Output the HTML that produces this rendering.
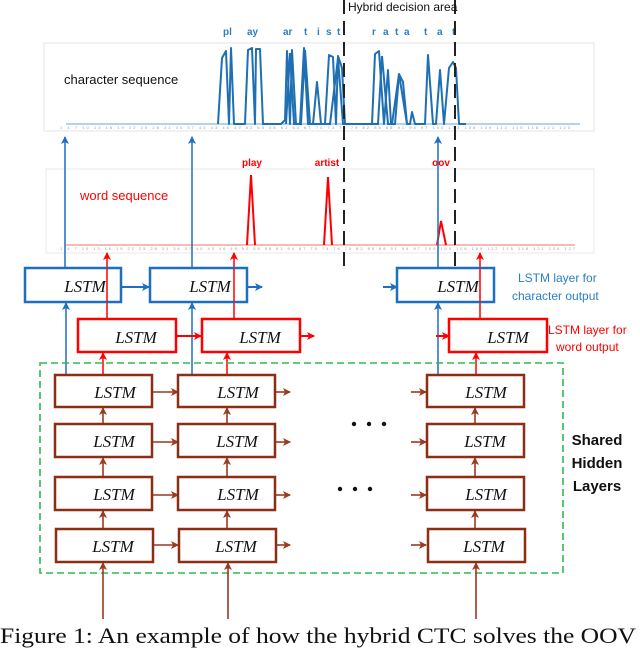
<!DOCTYPE html>
<html><head><style>body{margin:0;background:#fff}svg{display:block}</style></head><body>
<svg width="640" height="651" viewBox="0 0 640 651" xmlns="http://www.w3.org/2000/svg">
<defs>
<marker id="ab" markerWidth="8" markerHeight="8" refX="7" refY="4" orient="auto" markerUnits="userSpaceOnUse"><path d="M0,0 L8,4 L0,8 L2,4z" fill="#1f6fc0"/></marker>
<marker id="ar" markerWidth="8" markerHeight="8" refX="7" refY="4" orient="auto" markerUnits="userSpaceOnUse"><path d="M0,0 L8,4 L0,8 L2,4z" fill="#f00"/></marker>
<marker id="ak" markerWidth="8" markerHeight="8" refX="7" refY="4" orient="auto" markerUnits="userSpaceOnUse"><path d="M0,0 L8,4 L0,8 L2,4z" fill="#9b3a1e"/></marker>
</defs>
<!-- chart 1 -->
<rect x="44" y="43" width="550" height="88" fill="none" stroke="#e4e4e4"/>
<line x1="66" y1="124" x2="580" y2="124" stroke="#9cc3e6" stroke-width="1.5"/>
<g font-family="Liberation Sans,sans-serif" font-size="4" fill="#999">
<text x="60" y="129" textLength="510">1 4 7 10 13 16 19 22 25 28 31 34 37 40 43 46 49 52 55 58 61 64 67 70 73 76 79 82 85 88 91 94 97 100 103 106 109 112 115 118 121 123</text>
<text x="60" y="250" textLength="515">1 4 7 10 13 16 19 22 25 28 31 34 37 40 43 46 49 52 55 58 61 64 67 70 73 76 79 82 85 88 91 94 97 100 103 106 109 112 115 118 121 124 127</text>
</g>
<polyline fill="none" stroke="#1f6fb4" stroke-width="2" stroke-linejoin="round" points="218,124 222,58 226,51 229,124 231,48 234,124 245,124 248,50 252,48 255,124 256,49 260,49 263,124 281,124 285,120 287,51 290,124 292,50 296,124 300,124 304,48 308,124 313,124 317,82 321,124 325,124 329,55 333,57 336,124 338,56 342,68 345,124 350,124 372,124 375,54 379,51 384,124 388,70 391,124 395,124 399,74 403,82 407,124 410,124 412,112 415,124 425,124 428,55 433,124 436,124 440,70 444,124 449,68 453,62 456,68 459,124 466,124"/>
<polyline fill="none" stroke="#1f6fb4" stroke-width="2" points="286,124 290,53 294,124 301,124 305,50 310,124 330,124 338,58 343,124 378,124 382,56 388,124 392,124 399,74 407,124"/>
<text x="64" y="84" font-family="Liberation Sans,sans-serif" font-size="13" fill="#111">character sequence</text>
<g font-family="Liberation Sans,sans-serif" font-size="10" fill="#2a7fc5" font-weight="bold">
<text x="223" y="35">pl</text><text x="247" y="35">ay</text>
<text x="283" y="35">ar</text><text x="304" y="35">t</text><text x="317" y="35">i</text><text x="326" y="35">s</text><text x="337" y="35">t</text>
<text x="372" y="35">r</text><text x="383" y="35">a</text><text x="395" y="35">t</text><text x="404" y="35">a</text><text x="424" y="35">t</text><text x="437" y="35">a</text><text x="452" y="35">t</text>
</g>
<!-- chart 2 -->
<rect x="46" y="169" width="548" height="84" fill="none" stroke="#e8e8e8"/>
<line x1="66" y1="245" x2="575" y2="245" stroke="#f5a0a0" stroke-width="1.5"/>
<polyline fill="none" stroke="#f00" stroke-width="2" points="247,245 251,175 255,245"/>
<polyline fill="none" stroke="#f00" stroke-width="2" points="324,245 328,177 332,245"/>
<polyline fill="none" stroke="#f00" stroke-width="2" points="437,245 441,221 446,245"/>
<text x="80" y="200" font-family="Liberation Sans,sans-serif" font-size="13" fill="#f00">word sequence</text>
<g font-family="Liberation Sans,sans-serif" font-size="10" fill="#f00" font-weight="bold" text-anchor="middle">
<text x="252" y="166">play</text><text x="327" y="166">artist</text><text x="441" y="166">oov</text>
</g>
<!-- dashed -->
<line x1="344" y1="0" x2="344" y2="268" stroke="#222" stroke-width="2" stroke-dasharray="14,7"/>
<line x1="455" y1="0" x2="455" y2="268" stroke="#222" stroke-width="2" stroke-dasharray="14,7"/>
<text x="348" y="11" font-family="Liberation Sans,sans-serif" font-size="12" fill="#111">Hybrid decision area</text>
<!-- blue verticals -->
<g stroke="#1f6fc0" stroke-width="1.5" fill="none">
<line x1="65" y1="268" x2="65" y2="137" marker-end="url(#ab)"/>
<line x1="192" y1="268" x2="192" y2="137" marker-end="url(#ab)"/>
<line x1="438" y1="268" x2="438" y2="137" marker-end="url(#ab)"/>
<line x1="66" y1="374" x2="66" y2="303" marker-end="url(#ab)"/>
<line x1="192" y1="374" x2="192" y2="303" marker-end="url(#ab)"/>
<line x1="438" y1="374" x2="438" y2="303" marker-end="url(#ab)"/>
<line x1="121" y1="287" x2="149" y2="287" stroke-width="2" marker-end="url(#ab)"/>
<line x1="247" y1="287" x2="262" y2="287" stroke-width="2" marker-end="url(#ab)"/>
<line x1="383" y1="287" x2="397" y2="287" stroke-width="2" marker-end="url(#ab)"/>
</g>
<!-- red verticals -->
<g stroke="#f00" stroke-width="1.5" fill="none">
<line x1="107" y1="319" x2="107" y2="253" marker-end="url(#ar)"/>
<line x1="234" y1="319" x2="234" y2="253" marker-end="url(#ar)"/>
<line x1="480" y1="319" x2="480" y2="253" marker-end="url(#ar)"/>
<line x1="103" y1="374" x2="103" y2="353" marker-end="url(#ar)"/>
<line x1="227" y1="374" x2="227" y2="353" marker-end="url(#ar)"/>
<line x1="476" y1="374" x2="476" y2="353" marker-end="url(#ar)"/>
<line x1="176" y1="336" x2="201" y2="336" stroke-width="2" marker-end="url(#ar)"/>
<line x1="300" y1="336" x2="314" y2="336" stroke-width="2" marker-end="url(#ar)"/>
<line x1="436" y1="336" x2="449" y2="336" stroke-width="2" marker-end="url(#ar)"/>
</g>
<!-- blue boxes -->
<g fill="#fff" stroke="#1f6fc0" stroke-width="2.5">
<rect x="25" y="268" width="96" height="34"/><rect x="150" y="268" width="97" height="34"/><rect x="397" y="268" width="97" height="34"/>
</g>
<g fill="#fff" stroke="#f00" stroke-width="2.5">
<rect x="78" y="319" width="98" height="33"/><rect x="202" y="319" width="98" height="33"/><rect x="449" y="319" width="98" height="33"/>
</g>
<line x1="107" y1="268" x2="107" y2="302" stroke="#f00" stroke-width="1.5"/>
<line x1="234" y1="268" x2="234" y2="302" stroke="#f00" stroke-width="1.5"/>
<line x1="480" y1="268" x2="480" y2="302" stroke="#f00" stroke-width="1.5"/>
<g font-family="Liberation Serif,serif" font-style="italic" font-size="17" fill="#111" text-anchor="middle">
<text x="85" y="292">LSTM</text><text x="210" y="292">LSTM</text><text x="458" y="292">LSTM</text>
<text x="136" y="343">LSTM</text><text x="260" y="343">LSTM</text><text x="508" y="343">LSTM</text>
</g>
<g font-family="Liberation Sans,sans-serif" font-size="12" fill="#2a7fc5"><text x="518" y="282">LSTM  layer for</text><text x="512" y="300">character output</text></g>
<g font-family="Liberation Sans,sans-serif" font-size="12" fill="#f00"><text x="548" y="334">LSTM  layer for</text><text x="556" y="351">word output</text></g>
<!-- green -->
<rect x="40" y="363" width="523" height="210" fill="none" stroke="#2dbb4e" stroke-width="1.6" stroke-dasharray="7,4"/>
<!-- brown -->
<g stroke="#9b3a1e" stroke-width="1.6" fill="none">
<line x1="103" y1="619" x2="103" y2="563" marker-end="url(#ak)"/>
<line x1="228" y1="619" x2="228" y2="563" marker-end="url(#ak)"/>
<line x1="476" y1="619" x2="476" y2="563" marker-end="url(#ak)"/>
<line x1="103" y1="424" x2="103" y2="408" marker-end="url(#ak)"/><line x1="103" y1="477" x2="103" y2="458" marker-end="url(#ak)"/><line x1="103" y1="529" x2="103" y2="511" marker-end="url(#ak)"/>
<line x1="227" y1="424" x2="227" y2="408" marker-end="url(#ak)"/><line x1="227" y1="477" x2="227" y2="458" marker-end="url(#ak)"/><line x1="227" y1="529" x2="227" y2="511" marker-end="url(#ak)"/>
<line x1="475" y1="424" x2="475" y2="408" marker-end="url(#ak)"/><line x1="475" y1="477" x2="475" y2="458" marker-end="url(#ak)"/><line x1="475" y1="529" x2="475" y2="511" marker-end="url(#ak)"/>
<line x1="152" y1="392" x2="178" y2="392" marker-end="url(#ak)"/><line x1="275" y1="392" x2="290" y2="392" marker-end="url(#ak)"/><line x1="411" y1="392" x2="426" y2="392" marker-end="url(#ak)"/>
<line x1="152" y1="442" x2="178" y2="442" marker-end="url(#ak)"/><line x1="275" y1="442" x2="290" y2="442" marker-end="url(#ak)"/><line x1="411" y1="442" x2="426" y2="442" marker-end="url(#ak)"/>
<line x1="152" y1="495" x2="178" y2="495" marker-end="url(#ak)"/><line x1="275" y1="495" x2="290" y2="495" marker-end="url(#ak)"/><line x1="411" y1="495" x2="426" y2="495" marker-end="url(#ak)"/>
<line x1="152" y1="545" x2="178" y2="545" marker-end="url(#ak)"/><line x1="275" y1="545" x2="290" y2="545" marker-end="url(#ak)"/><line x1="411" y1="545" x2="426" y2="545" marker-end="url(#ak)"/>
</g>
<g fill="#fff" stroke="#8b2e14" stroke-width="2.5">
<rect x="55" y="375" width="97" height="32"/><rect x="178" y="375" width="97" height="32"/><rect x="427" y="375" width="97" height="32"/>
<rect x="55" y="424" width="97" height="33"/><rect x="178" y="424" width="97" height="33"/><rect x="427" y="424" width="97" height="33"/>
<rect x="55" y="477" width="97" height="33"/><rect x="178" y="477" width="97" height="33"/><rect x="427" y="477" width="97" height="33"/>
<rect x="56" y="529" width="97" height="33"/><rect x="179" y="529" width="97" height="33"/><rect x="428" y="529" width="97" height="33"/>
</g>
<g font-family="Liberation Serif,serif" font-style="italic" font-size="17" fill="#111" text-anchor="middle">
<text x="115" y="398">LSTM</text><text x="238" y="398">LSTM</text><text x="486" y="398">LSTM</text>
<text x="114" y="447">LSTM</text><text x="237" y="447">LSTM</text><text x="485" y="447">LSTM</text>
<text x="114" y="500">LSTM</text><text x="238" y="500">LSTM</text><text x="486" y="500">LSTM</text>
<text x="113" y="552">LSTM</text><text x="236" y="552">LSTM</text><text x="484" y="552">LSTM</text>
</g>
<g fill="#111"><circle cx="354" cy="424" r="2.2"/><circle cx="369" cy="424" r="2.2"/><circle cx="384" cy="424" r="2.2"/>
<circle cx="340" cy="489" r="2.2"/><circle cx="355" cy="489" r="2.2"/><circle cx="370" cy="489" r="2.2"/></g>
<g font-family="Liberation Sans,sans-serif" font-size="15" font-weight="bold" fill="#111" text-anchor="middle">
<text x="597" y="445">Shared</text><text x="597" y="468">Hidden</text><text x="597" y="491">Layers</text>
</g>
<text x="0" y="643" font-family="Liberation Serif,serif" font-size="22" fill="#111" textLength="636" lengthAdjust="spacingAndGlyphs">Figure 1: An example of how the hybrid CTC solves the OOV</text>
</svg>
</body></html>
